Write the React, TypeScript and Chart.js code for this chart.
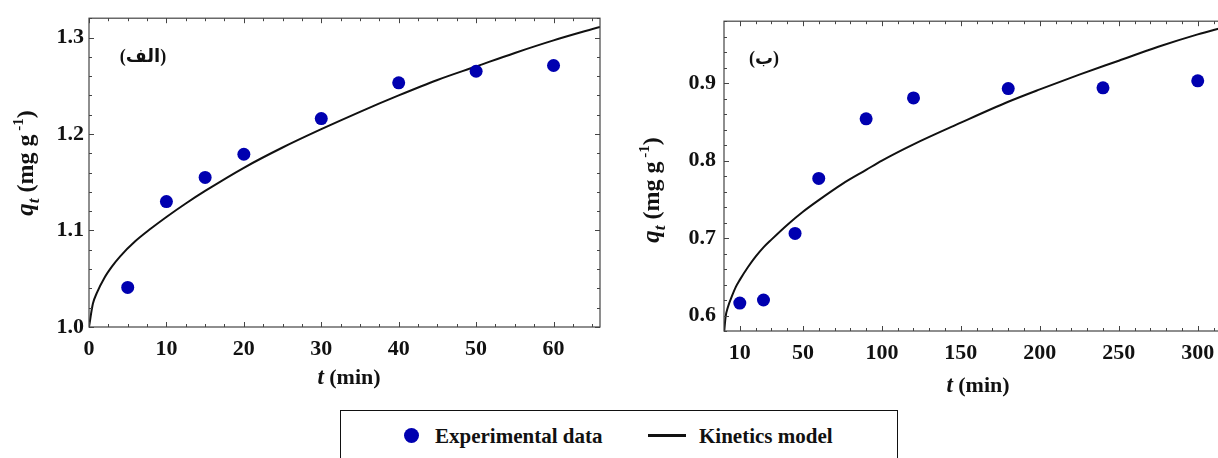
import React, { useEffect, useRef } from "react";
import { Chart, registerables } from "chart.js";

Chart.register(...registerables);

// ---------------- Data ----------------
// Panel (الف)
const leftExpT = [5, 10, 15, 20, 30, 40, 50, 60];
const leftExpQ = [1.041, 1.13, 1.155, 1.179, 1.216, 1.253, 1.265, 1.271];
const leftModelT = [0, 0.5, 1, 2, 3, 4, 6, 8, 10, 12.5, 15, 20, 25, 30, 35, 40, 45, 50, 55, 60, 66];
const leftModelQ = [1.0, 1.024, 1.035, 1.051, 1.063, 1.073, 1.089, 1.102, 1.114, 1.128, 1.141, 1.165, 1.186, 1.205, 1.223, 1.24, 1.256, 1.27, 1.284, 1.297, 1.311];

// Panel (ب)
const rightExpT = [10, 25, 45, 60, 90, 120, 180, 240, 300];
const rightExpQ = [0.616, 0.62, 0.706, 0.777, 0.854, 0.881, 0.893, 0.894, 0.903];
const rightModelT = [0, 1, 2.5, 5, 7.5, 10, 15, 20, 25, 30, 40, 50, 60, 75, 90, 100, 120, 150, 180, 200, 225, 250, 275, 300, 316];
const rightModelQ = [0.576, 0.598, 0.611, 0.625, 0.637, 0.646, 0.662, 0.676, 0.688, 0.698, 0.717, 0.734, 0.749, 0.77, 0.788, 0.8, 0.821, 0.849, 0.876, 0.892, 0.911, 0.929, 0.947, 0.963, 0.972];

// Tick labels
const leftXTicks = [0, 10, 20, 30, 40, 50, 60];
const leftYTicks = [1.0, 1.1, 1.2, 1.3];
const rightXTicks = [10, 50, 100, 150, 200, 250, 300];
const rightYTicks = [0.6, 0.7, 0.8, 0.9];

const seriesLabels = ["Experimental data", "Kinetics model"];
const panelLabels = ["(الف)", "(ب)"];

// ---------------- Styles ----------------
const BLUE = "#0000b0";
const INK = "#111111";
const FRAME = "#444444";
const SERIF = '"Liberation Serif", Tinos, "Times New Roman", "DejaVu Serif", serif';
const ARABIC = '"Liberation Serif", "DejaVu Sans", "Noto Sans", sans-serif';

function steps(start: number, end: number, step: number): number[] {
  const out: number[] = [];
  for (let i = 0; start + i * step <= end + 1e-9; i++) out.push(+(start + i * step).toFixed(4));
  return out;
}

type Seg = { text: string; size: number; italic?: boolean; dy?: number };

function drawRich(ctx: CanvasRenderingContext2D, segs: Seg[], cx: number, cy: number, rotate: boolean) {
  ctx.save();
  ctx.translate(cx, cy);
  if (rotate) ctx.rotate(-Math.PI / 2);
  const fontOf = (s: Seg) => `${s.italic ? "italic " : ""}bold ${s.size}px ${SERIF}`;
  let total = 0;
  const widths = segs.map((s) => {
    ctx.font = fontOf(s);
    const w = ctx.measureText(s.text).width;
    total += w;
    return w;
  });
  let x = -total / 2;
  ctx.textBaseline = "alphabetic";
  ctx.textAlign = "left";
  ctx.fillStyle = INK;
  segs.forEach((s, i) => {
    ctx.font = fontOf(s);
    ctx.fillText(s.text, x, s.dy || 0);
    x += widths[i];
  });
  ctx.restore();
}

type PanelCfg = {
  key: string;
  expT: number[];
  expQ: number[];
  modT: number[];
  modQ: number[];
  xMin: number;
  xMax: number;
  yMin: number;
  yMax: number;
  xTicks: number[];
  yTicks: number[];
  xMinor: number[];
  yMinor: number[];
  width: number;
  height: number;
  pad: { left: number; right: number; top: number; bottom: number };
  yAxisW: number;
  xAxisH: number;
  yTickPad: number;
  xTickPad: number;
  yTitle: { x: number; y: number };
  xTitle: { x: number; y: number };
  label: { text: string; x: number; y: number };
};

function makeDecor(cfg: PanelCfg) {
  return {
    id: "decor_" + cfg.key,
    afterDatasetsDraw(chart: any) {
      const ctx: CanvasRenderingContext2D = chart.ctx;
      const { left, right, top, bottom } = chart.chartArea;
      const xs = chart.scales.x;
      const ys = chart.scales.y;
      ctx.save();
      ctx.strokeStyle = FRAME;
      ctx.lineWidth = 1.2;
      ctx.strokeRect(left, top, right - left, bottom - top);
      ctx.lineWidth = 1;
      const MAJ = 5;
      const MIN = 3;
      const xLine = (v: number, len: number) => {
        const px = Math.round(xs.getPixelForValue(v)) + 0.5;
        if (px < left - 0.5 || px > right + 0.5) return;
        ctx.beginPath();
        ctx.moveTo(px, bottom);
        ctx.lineTo(px, bottom - len);
        ctx.moveTo(px, top);
        ctx.lineTo(px, top + len);
        ctx.stroke();
      };
      const yLine = (v: number, len: number) => {
        const py = Math.round(ys.getPixelForValue(v)) + 0.5;
        if (py < top - 0.5 || py > bottom + 0.5) return;
        ctx.beginPath();
        ctx.moveTo(left, py);
        ctx.lineTo(left + len, py);
        ctx.moveTo(right, py);
        ctx.lineTo(right - len, py);
        ctx.stroke();
      };
      cfg.xMinor.forEach((v) => xLine(v, MIN));
      cfg.xTicks.forEach((v) => xLine(v, MAJ));
      cfg.yMinor.forEach((v) => yLine(v, MIN));
      cfg.yTicks.forEach((v) => yLine(v, MAJ));
      ctx.restore();
    },
    afterDraw(chart: any) {
      const ctx: CanvasRenderingContext2D = chart.ctx;
      // y-axis title: q_t (mg g^-1)
      drawRich(
        ctx,
        [
          { text: "q", size: 25, italic: true },
          { text: "t", size: 17, italic: true, dy: 6 },
          { text: " (mg g", size: 24 },
          { text: " -1", size: 15, dy: -10 },
          { text: ")", size: 24 },
        ],
        cfg.yTitle.x,
        cfg.yTitle.y,
        true
      );
      // x-axis title: t (min)
      drawRich(
        ctx,
        [
          { text: "t", size: 23, italic: true },
          { text: " (min)", size: 22 },
        ],
        cfg.xTitle.x,
        cfg.xTitle.y,
        false
      );
      // panel label
      ctx.save();
      ctx.font = `bold 18px ${ARABIC}`;
      ctx.fillStyle = INK;
      ctx.direction = "rtl";
      ctx.textAlign = "center";
      ctx.textBaseline = "middle";
      ctx.fillText(cfg.label.text, cfg.label.x, cfg.label.y);
      ctx.restore();
    },
  };
}

function Panel({ cfg, left }: { cfg: PanelCfg; left: number }) {
  const ref = useRef<HTMLCanvasElement>(null);
  useEffect(() => {
    if (!ref.current) return;
    const tickFont = { family: SERIF, size: 22, weight: "bold" as const };
    const chart = new Chart(ref.current, {
      type: "scatter",
      data: {
        datasets: [
          {
            label: seriesLabels[0],
            data: cfg.expT.map((t, i) => ({ x: t, y: cfg.expQ[i] })),
            pointRadius: 6.5,
            pointBackgroundColor: BLUE,
            pointBorderWidth: 0,
            borderColor: BLUE,
            showLine: false,
          },
          {
            label: seriesLabels[1],
            data: cfg.modT.map((t, i) => ({ x: t, y: cfg.modQ[i] })),
            showLine: true,
            pointRadius: 0,
            borderColor: INK,
            borderWidth: 2,
            cubicInterpolationMode: "monotone",
          } as any,
        ],
      },
      options: {
        animation: false,
        responsive: false,
        devicePixelRatio: 1,
        events: [],
        layout: { padding: cfg.pad },
        plugins: { legend: { display: false }, tooltip: { enabled: false } },
        scales: {
          x: {
            type: "linear",
            min: cfg.xMin,
            max: cfg.xMax,
            grid: { display: false, drawTicks: false },
            border: { display: false },
            afterBuildTicks: (scale: any) => {
              scale.ticks = cfg.xTicks.map((v) => ({ value: v }));
            },
            afterFit: (scale: any) => {
              scale.height = cfg.xAxisH;
            },
            ticks: {
              font: tickFont,
              color: INK,
              padding: cfg.xTickPad,
              maxRotation: 0,
              autoSkip: false,
              callback: (v: any) => String(v),
            },
          },
          y: {
            type: "linear",
            min: cfg.yMin,
            max: cfg.yMax,
            grid: { display: false, drawTicks: false },
            border: { display: false },
            afterBuildTicks: (scale: any) => {
              scale.ticks = cfg.yTicks.map((v) => ({ value: v }));
            },
            afterFit: (scale: any) => {
              scale.width = cfg.yAxisW;
            },
            ticks: {
              font: tickFont,
              color: INK,
              padding: cfg.yTickPad,
              autoSkip: false,
              callback: (v: any) => Number(v).toFixed(1),
            },
          },
        },
      },
      plugins: [makeDecor(cfg)],
    } as any);
    return () => chart.destroy();
  }, [cfg]);
  return (
    <canvas
      ref={ref}
      width={cfg.width}
      height={cfg.height}
      style={{ position: "absolute", left, top: 0, width: cfg.width, height: cfg.height }}
    />
  );
}

const leftCfg: PanelCfg = {
  key: "a",
  expT: leftExpT,
  expQ: leftExpQ,
  modT: leftModelT,
  modQ: leftModelQ,
  xMin: 0,
  xMax: 66,
  yMin: 1.0,
  yMax: 1.32,
  xTicks: leftXTicks,
  yTicks: leftYTicks,
  xMinor: steps(0, 66, 2.5),
  yMinor: steps(1.0, 1.32, 0.02),
  width: 620,
  height: 400,
  pad: { left: 0, right: 20, top: 13, bottom: 0 },
  yAxisW: 89,
  xAxisH: 73,
  yTickPad: 5,
  xTickPad: 9,
  yTitle: { x: 33, y: 163 },
  xTitle: { x: 349, y: 384 },
  label: { text: panelLabels[0], x: 143, y: 57 },
};

const rightCfg: PanelCfg = {
  key: "b",
  expT: rightExpT,
  expQ: rightExpQ,
  modT: rightModelT,
  modQ: rightModelQ,
  xMin: 0,
  xMax: 316,
  yMin: 0.58,
  yMax: 0.98,
  xTicks: rightXTicks,
  yTicks: rightYTicks,
  xMinor: steps(10, 316, 10),
  yMinor: steps(0.58, 0.98, 0.02),
  width: 610,
  height: 400,
  pad: { left: 0, right: 7, top: 20, bottom: 0 },
  yAxisW: 104,
  xAxisH: 69,
  yTickPad: 8,
  xTickPad: 9,
  yTitle: { x: 39, y: 190 },
  xTitle: { x: 358, y: 392 },
  label: { text: panelLabels[1], x: 144, y: 59 },
};

export default function App() {
  const legendText: React.CSSProperties = {
    position: "absolute",
    top: 425,
    height: 22,
    lineHeight: "22px",
    fontFamily: SERIF,
    fontWeight: "bold",
    fontSize: 21,
    color: INK,
    whiteSpace: "nowrap",
  };
  return (
    <div
      style={{
        position: "absolute",
        left: 0,
        top: 0,
        width: 1218,
        height: 458,
        overflow: "hidden",
        background: "#ffffff",
      }}
    >
      <Panel cfg={leftCfg} left={0} />
      <Panel cfg={rightCfg} left={620} />
      <div
        style={{
          position: "absolute",
          left: 340,
          top: 410,
          width: 558,
          height: 70,
          boxSizing: "border-box",
          border: `1.5px solid ${INK}`,
        }}
      />
      <div
        style={{
          position: "absolute",
          left: 404,
          top: 428,
          width: 15,
          height: 15,
          borderRadius: "50%",
          background: BLUE,
        }}
      />
      <div style={{ ...legendText, left: 435 }}>{seriesLabels[0]}</div>
      <div
        style={{
          position: "absolute",
          left: 648,
          top: 434,
          width: 38,
          height: 3,
          background: INK,
        }}
      />
      <div style={{ ...legendText, left: 699 }}>{seriesLabels[1]}</div>
    </div>
  );
}
